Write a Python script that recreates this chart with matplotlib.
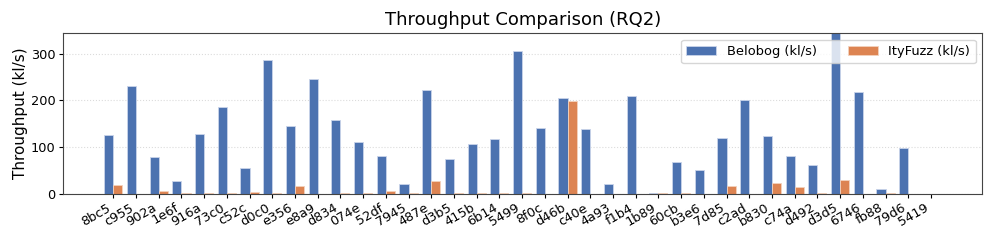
import numpy as np
import matplotlib
matplotlib.use("Agg")
import matplotlib.pyplot as plt

# benchmark ids (short hashes)
targets = ['8bc5', 'c955', '902a', '1e6f', '916a', '73c0', 'c52c', 'd0c0', 'e356', 'e8a9',
           'd834', '074e', '52df', '7945', '487e', 'd3b5', '415b', '6b14', '5499', '8f0c',
           'd46b', 'c40e', '4a93', 'f1b4', '1b89', '60cb', 'b3e6', '7d85', 'c2ad', 'b830',
           'c74a', 'd492', 'd3d5', '6746', 'fb88', '79d6', '5419']
belobog = [126, 231, 78, 27, 128, 185, 54, 287, 145, 245,
           159, 111, 81, 20, 222, 74, 107, 118, 306, 141,
           206, 139, 20, 210, 1, 69, 50, 119, 200, 124,
           81, 61, 390, 219, 9, 98, 0]
ityfuzz = [19, 0, 5, 1, 0.5, 0.5, 3.5, 0.5, 16.5, 0,
           1, 1, 5, 1, 26.5, 1, 1, 0.5, 1, 0,
           199, 0, 0, 0, 1, 1, 0, 16.5, 0, 22,
           14.5, 1, 29.5, 0, 1, 0, 0]

x = np.arange(len(targets))
w = 0.4

fig = plt.figure(figsize=(9.97, 2.43), dpi=100)
ax = fig.add_axes([0.0635, 0.203, 0.9215, 0.66])

ax.bar(x - w / 2, belobog, w, label='Belobog (kl/s)', color='#4C72B0',
       edgecolor='#c9d4ea', linewidth=0.6)
ax.bar(x + w / 2, ityfuzz, w, label='ItyFuzz (kl/s)', color='#DD8452',
       edgecolor='#f3d2bd', linewidth=0.6)

ax.set_title('Throughput Comparison (RQ2)', fontsize=13)
ax.set_ylabel('Throughput (kl/s)', fontsize=11, labelpad=2)
ax.set_xticks(x)
ax.set_xticklabels(targets, rotation=30, ha='right', fontsize=9.3)
ax.tick_params(axis='y', labelsize=9.3)
ax.tick_params(length=3, pad=2.5)
ax.set_xlim(-2.2, 38.25)
ax.set_ylim(0, 344)
ax.set_yticks([0, 100, 200, 300])
ax.grid(axis='y', linestyle=':', color='#cccccc', alpha=0.7)
ax.set_axisbelow(True)
for s in ax.spines.values():
    s.set_color('#444444')

ax.legend(loc='upper right', ncol=2, fontsize=9.4, handlelength=2.3,
          handleheight=0.8, columnspacing=2.4)

fig.savefig('out.png', dpi=100)
